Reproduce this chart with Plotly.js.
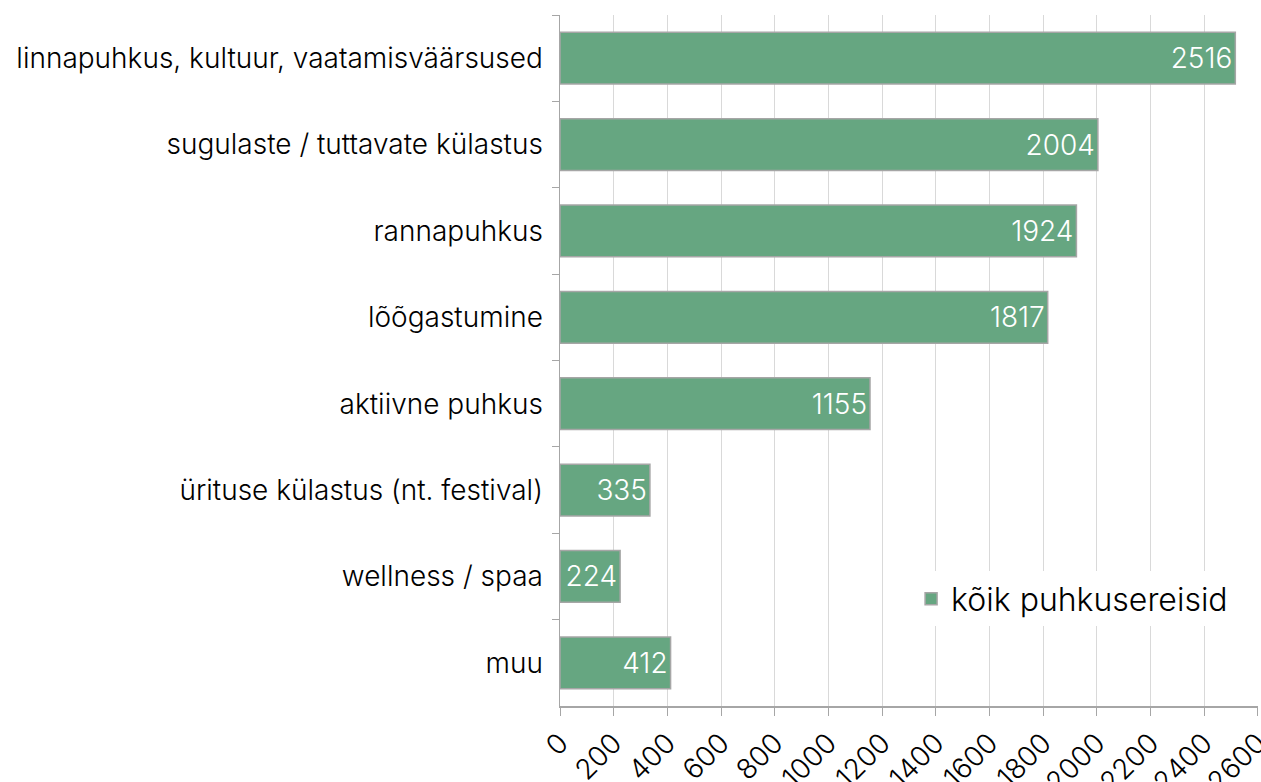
<!DOCTYPE html>
<html><head><meta charset="utf-8">
<script src="https://cdn.plot.ly/plotly-3.0.1.min.js"></script>
<style>html,body{margin:0;padding:0;background:#fff}#c{width:1261px;height:782px}</style>
</head><body><div id="c"></div>
<script>
const categories = ["linnapuhkus, kultuur, vaatamisväärsused","sugulaste / tuttavate külastus","rannapuhkus","lõõgastumine","aktiivne puhkus","ürituse külastus (nt. festival)","wellness / spaa","muu"];
const values = [2516, 2004, 1924, 1817, 1155, 335, 224, 412];
const seriesName = "kõik puhkusereisid";
const xTicks = [0,200,400,600,800,1000,1200,1400,1600,1800,2000,2200,2400,2600];

const FONT = "Inter, 'Open Sans', sans-serif";
const trace = {
  type: "bar", orientation: "h",
  y: categories, x: values, name: seriesName,
  marker: {color: "#66a681", line: {color: "#a6a6a6", width: 1.5}},
  width: 0.6,
  text: values.map(String), textposition: "inside", insidetextanchor: "end",
  textfont: {color: "#ffffff", size: 28, family: FONT, weight: 300},
  showlegend: true, cliponaxis: false
};
const layout = {
  width: 1261, height: 782,
  margin: {l: 560, r: 3, t: 15, b: 76},
  paper_bgcolor: "#fff", plot_bgcolor: "#fff",
  font: {family: FONT, size: 28, color: "#000"},
  xaxis: {range: [0, 2600.5], tickvals: xTicks, ticktext: xTicks.map(String), tickangle: -45,
    showgrid: true, gridcolor: "#d9d9d9", gridwidth: 1, zeroline: false,
    showline: true, linecolor: "#a6a6a6", linewidth: 1.5, ticks: "outside", ticklen: 8, tickcolor: "#a6a6a6",
    ticklabeloverflow: "allow",
    tickfont: {size: 28, family: FONT, weight: 300}},
  yaxis: {autorange: "reversed", type: "category", categoryorder: "array", categoryarray: categories,
    showline: true, linecolor: "#a6a6a6", linewidth: 1.5, ticks: "outside", tickson: "boundaries", ticklen: 7, tickcolor: "#a6a6a6",
    showgrid: false, zeroline: false, ticklabelstandoff: 10,
    tickfont: {size: 28, family: FONT, weight: 300}},
  legend: {x: 0.503, y: 0.155, xanchor: "left", yanchor: "middle", bgcolor: "#ffffff",
    font: {size: 32, family: FONT, weight: 300}, itemwidth: 30, borderwidth: 0},
  bargap: 0.4,
  uniformtext: {mode: false}
};
Plotly.newPlot("c", [trace], layout, {displayModeBar: false, staticPlot: true});
</script></body></html>
